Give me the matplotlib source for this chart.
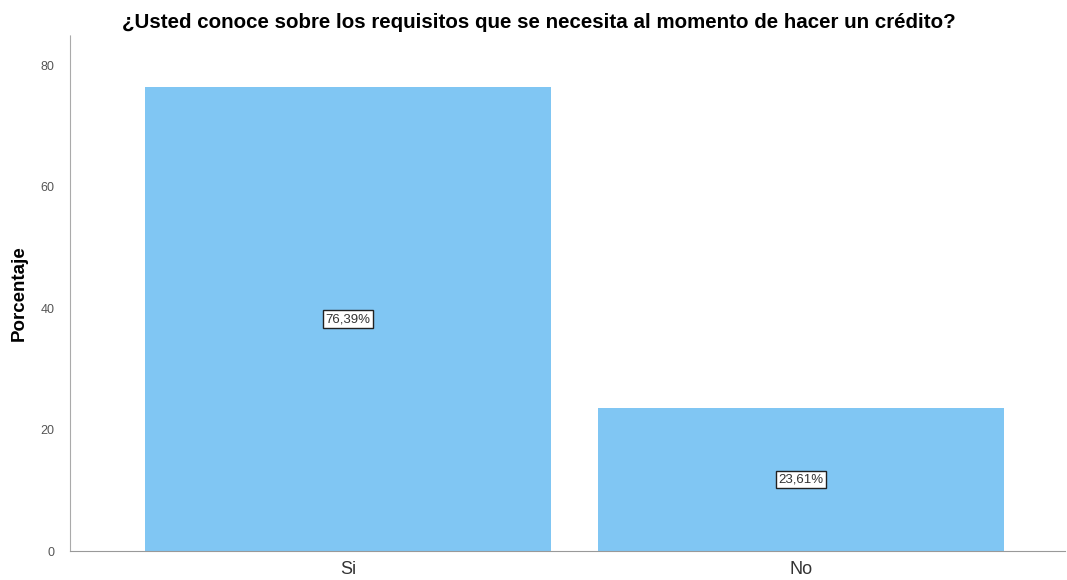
import matplotlib.pyplot as plt

plt.rcParams['font.family'] = ['Liberation Sans', 'DejaVu Sans']

categories = ['Si', 'No']
values = [76.39, 23.61]
labels = ['76,39%', '23,61%']

fig = plt.figure(figsize=(10.67, 5.8), dpi=100)
ax = fig.add_axes([0.0656, 0.05, 0.9325, 0.89])

x = list(range(len(categories)))
ax.bar(x, values, width=0.896, color='#80C6F3', edgecolor='none')

for xi, v, lab in zip(x, values, labels):
    ax.text(xi, v / 2, lab, ha='center', va='center', fontsize=9.5, color='#333333',
            bbox=dict(boxstyle='square,pad=0.2', facecolor='white', edgecolor='#222222', linewidth=1))

ax.set_xlim(-0.614, 1.583)
ax.set_ylim(0, 85)
ax.set_yticks([0, 20, 40, 60, 80])
ax.set_xticks(x)
ax.set_xticklabels(categories, fontsize=13, color='#333333')
ax.tick_params(axis='y', length=0, labelsize=9, labelcolor='#555555', pad=11)
ax.tick_params(axis='x', length=0, pad=7)

for s in ['top', 'right']:
    ax.spines[s].set_visible(False)
ax.spines['left'].set_color('#aaaaaa')
ax.spines['left'].set_linestyle((0, (2, 1)))
ax.spines['bottom'].set_color('#999999')

ax.set_ylabel('Porcentaje', fontsize=13.5, fontweight='bold', labelpad=9)
fig.suptitle('¿Usted conoce sobre los requisitos que se necesita al momento de hacer un crédito?',
             fontsize=14.8, fontweight='bold', x=0.505, y=0.978)

fig.savefig('out.png', dpi=100)
